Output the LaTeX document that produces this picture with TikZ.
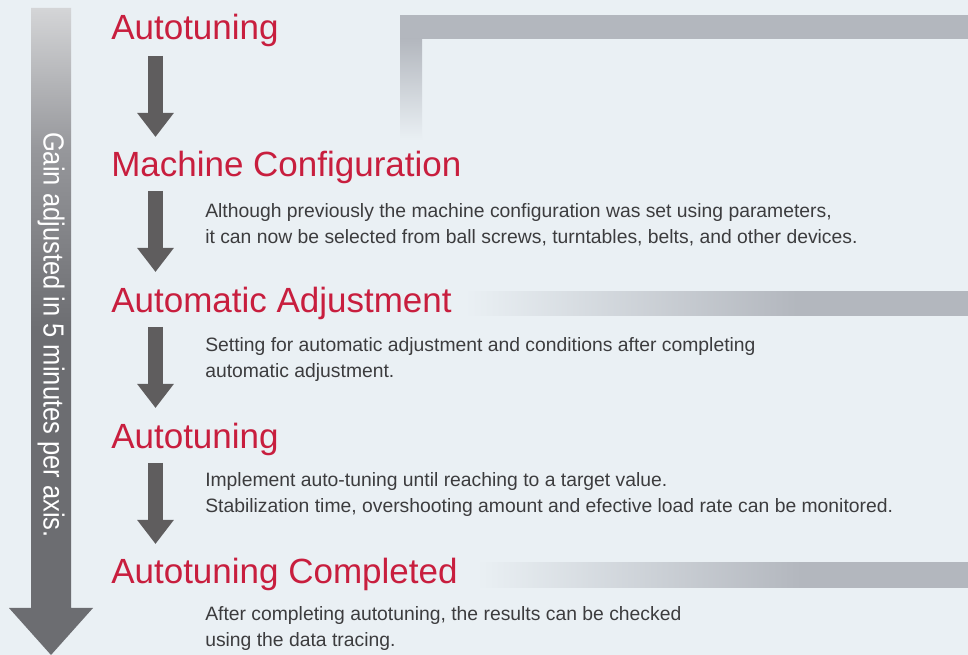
\documentclass[tikz,border=0pt]{standalone}
\usepackage{fontspec}
\setmainfont{Liberation Sans}
\usetikzlibrary{arrows.meta}

\definecolor{pagebg}{RGB}{234,240,244}
\definecolor{titlered}{RGB}{200,30,62}
\definecolor{bodygrey}{RGB}{60,60,62}
\definecolor{arrowgrey}{RGB}{95,93,94}
\definecolor{bargrey}{RGB}{179,183,190}
\definecolor{biglight}{RGB}{212,213,215}
\definecolor{bigmid}{RGB}{150,151,155}
\definecolor{bigdark}{RGB}{108,109,113}

\pgfdeclareverticalshading{gainshade}{100bp}{color(0bp)=(bigdark); color(50bp)=(bigdark); color(64bp)=(bigmid); color(75bp)=(biglight); color(100bp)=(biglight)}
\pgfdeclarehorizontalshading{barfade}{100bp}{color(0bp)=(pagebg); color(25bp)=(pagebg); color(58bp)=(bargrey); color(100bp)=(bargrey)}

\tikzset{
  steptitle/.style={anchor=base west, inner sep=0pt, text=titlered, font=\fontsize{26.25}{30}\selectfont},
  stepnote/.style={anchor=base west, inner sep=0pt, text=bodygrey, align=left, font=\fontsize{14.5}{19.7}\selectfont},
  steparrow/.style={draw=arrowgrey, line width=11.25pt, -{Triangle[width=26.25pt,length=18pt]}},
}

\begin{document}
\begin{tikzpicture}[x=0.75pt,y=0.75pt,yscale=-1,xscale=1]
%background
\useasboundingbox[fill=pagebg] (0,0) rectangle (968,655);
%Shape: top bar
\fill[bargrey] (400,15) rectangle (968,39);
\shade[top color=bargrey, bottom color=pagebg] (400,39) rectangle (422,140);
%Shape: bar behind Automatic Adjustment
\shade[shading=barfade] (465,292) rectangle (968,316);
%Shape: bar behind Autotuning Completed
\shade[shading=barfade] (477,563) rectangle (968,588);
%Shape: big arrow
\shade[shading=gainshade] (31,8) -- (71,8) -- (71,608) -- (93,608) -- (51,655) -- (9,608) -- (31,608) -- cycle;
% Text Node
\draw (51,335) node[rotate=-90, text=white, font=\fontsize{21.75}{24}\selectfont] (gain) {\scalebox{0.88}[1]{Gain adjusted in 5 minutes per axis.}};

% Text Node
\node[steptitle] (tune) at (111,40) {Autotuning};
% Text Node
\node[steptitle] (machine) at (111,177) {Machine Configuration};
% Text Node
\node[steptitle] (adjust) at (111,313) {Automatic Adjustment};
% Text Node
\node[steptitle] (retune) at (111,449) {Autotuning};
% Text Node
\node[steptitle] (done) at (111,584) {Autotuning Completed};

% Text Node
\node[stepnote] (machinenote) at (205,244) {Although previously the machine configuration was set using parameters,\\it can now be selected from ball screws, turntables, belts, and other devices.};
% Text Node
\node[stepnote] (adjustnote) at (205,378) {Setting for automatic adjustment and conditions after completing\\automatic adjustment.};
% Text Node
\node[stepnote] (retunenote) at (205,513) {Implement auto-tuning until reaching to a target value.\\Stabilization time, overshooting amount and efective load rate can be monitored.};
% Text Node
\node[stepnote] (donenote) at (205,647) {After completing autotuning, the results can be checked\\using the data tracing.};

%Straight Lines
\coordinate (a1) at (155.5,56);  \coordinate (b1) at (155.5,137);
\coordinate (a2) at (155.5,191); \coordinate (b2) at (155.5,272);
\coordinate (a3) at (155.5,327); \coordinate (b3) at (155.5,408);
\coordinate (a4) at (155.5,463); \coordinate (b4) at (155.5,544);
\foreach \i in {1,2,3,4}
  \draw[steparrow] (a\i) -- (b\i);
\end{tikzpicture}
\end{document}
